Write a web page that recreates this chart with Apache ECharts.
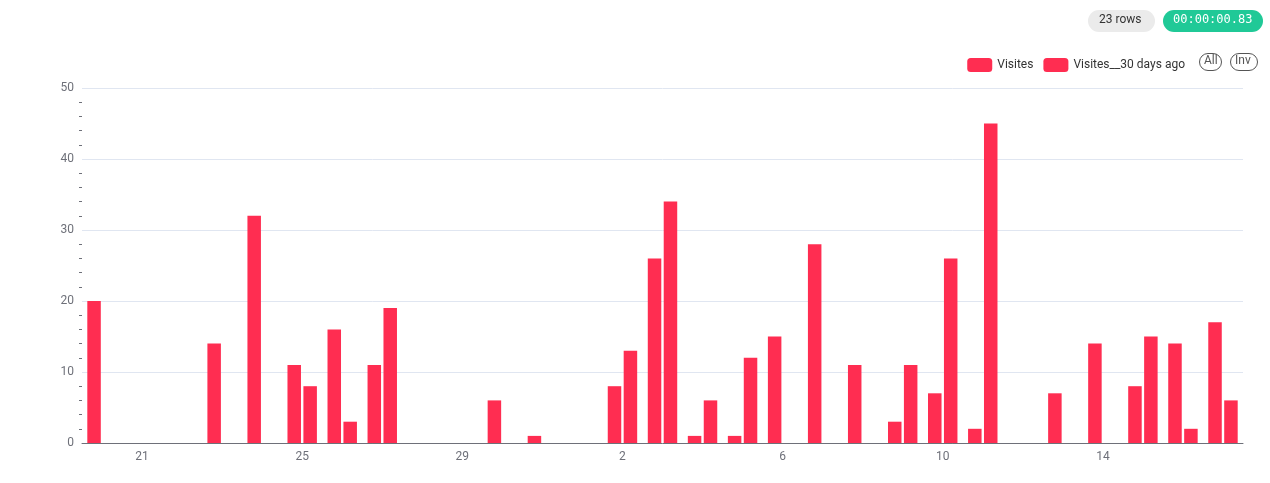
<!DOCTYPE html>
<html><head><meta charset="utf-8">
<script src="https://cdn.jsdelivr.net/npm/echarts@6/dist/echarts.min.js"></script>
<style>html,body{margin:0;padding:0;background:#fff}#c{width:1270px;height:483px}</style>
</head><body><div id="c"></div>
<script>
const categories = ['20','21','22','23','24','25','26','27','28','29','30','31','Nov','2','3','4','5','6','7','8','9','10','11','12','13','14','15','16','17'];
const visites =      [20,0,0,14,32,11,16,11,0,0,6,1,0,8,26,1,1,15,28,11,3,7,2,0,7,14,8,14,17];
const visites30 =    [0,0,0,0,0,8,3,19,0,0,0,0,0,13,34,6,12,0,0,0,11,26,45,0,0,0,15,2,6];
const yTicks = [0,10,20,30,40,50];
const red = '#ff2d51';
const chart = echarts.init(document.getElementById('c'));
chart.setOption({
  animation:false,
  legend:{top:53,right:80,itemWidth:25,itemHeight:14,icon:'roundRect',itemGap:10,
    textStyle:{color:'#333',fontSize:12,fontFamily:'Roboto'},
    data:['Visites','Visites__30 days ago']},
  grid:{left:82,right:27,top:88,bottom:40},
  xAxis:{type:'category',data:categories,boundaryGap:true,
    axisLine:{lineStyle:{color:'#6e7079'}},axisTick:{show:false},
    axisLabel:{interval:(i)=>(i-1)%4===0,color:'#6e7079',fontSize:12,fontFamily:'Roboto',
      formatter:(v)=>v==='Nov'?'{b|Nov}':v,rich:{b:{fontWeight:'bold',color:'#6e7079',fontSize:12}}}},
  yAxis:{type:'value',min:yTicks[0],max:yTicks[yTicks.length-1],interval:10,
    axisLabel:{color:'#6e7079',fontSize:12,fontFamily:'Roboto'},
    splitLine:{lineStyle:{color:'#e0e6f1'}},
    minorTick:{show:true,splitNumber:5,length:3,lineStyle:{color:'#6e7079'}}},
  series:[
    {name:'Visites',type:'bar',data:visites,itemStyle:{color:red},barWidth:13.5,barGap:'18%'},
    {name:'Visites__30 days ago',type:'bar',data:visites30,itemStyle:{color:red},barWidth:13.5}
  ],
  graphic:[
    {type:'rect',left:1088,top:10,shape:{width:67,height:22,r:11},style:{fill:'#ebebeb'}},
    {type:'text',left:1099,top:14,style:{text:'23 rows',fill:'#333',font:'12px Roboto'}},
    {type:'rect',left:1163,top:10,shape:{width:100,height:22,r:11},style:{fill:'#20c997'}},
    {type:'text',left:1173,top:14,style:{text:'00:00:00.83',fill:'#fff',font:'12px "DejaVu Sans Mono"'}},
    {type:'rect',left:1199,top:53,shape:{width:22,height:17,r:8.5},style:{fill:'#fff',stroke:'#555',lineWidth:1}},
    {type:'text',left:1204,top:55,style:{text:'All',fill:'#555',font:'12px Roboto'}},
    {type:'rect',left:1230,top:53,shape:{width:27,height:17,r:8.5},style:{fill:'#fff',stroke:'#555',lineWidth:1}},
    {type:'text',left:1235,top:55,style:{text:'Inv',fill:'#555',font:'12px Roboto'}}
  ]
});
</script></body></html>
